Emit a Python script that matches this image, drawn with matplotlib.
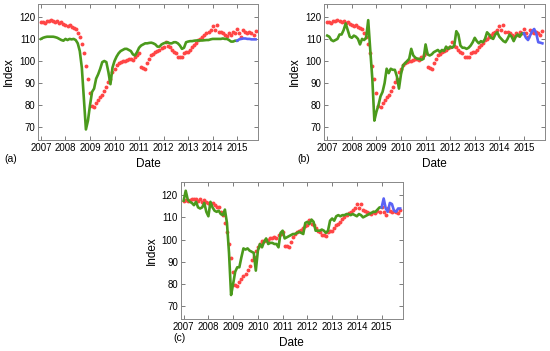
import numpy as np
import matplotlib
matplotlib.use('Agg')
import matplotlib.pyplot as plt

plt.rcParams['font.family'] = ['Liberation Sans', 'DejaVu Sans']

# monthly index, Jan 2007 .. Oct 2015
observed = [
    117.5, 117.8, 117.2, 118.0, 118.3, 118.5, 118.2, 117.5, 118.3, 117.0, 117.8, 116.8,
    116.5, 116.0, 116.3, 115.5, 114.8, 114.5, 112.5, 111.0, 107.5, 103.5, 97.8, 91.8,
    85.3, 79.6, 79.0, 80.8, 82.3, 83.5, 84.5, 86.5, 88.3, 90.6, 92.0, 95.0,
    96.6, 98.0, 99.2, 99.5, 99.8, 100.0, 100.5, 100.8, 101.0, 100.5, 102.0, 102.5,
    103.5, 97.2, 97.0, 96.5, 99.0, 101.0, 102.5, 103.3, 104.0, 104.5, 105.0, 106.0,
    106.4, 108.7, 107.0, 106.4, 105.0, 104.0, 103.4, 102.0, 102.0, 101.6, 103.4, 104.0,
    104.0, 105.0, 106.4, 107.2, 108.0, 109.4, 110.0, 111.0, 112.0, 112.5, 113.2, 114.0,
    115.8, 114.0, 116.2, 113.2, 113.0, 112.5, 112.0, 111.5, 112.5, 112.0, 113.0, 112.5,
    114.7, 112.5, 111.0, 114.0, 113.0, 112.5, 113.0, 112.5, 112.0, 113.5,
]

# fitted values, Jan 2007 .. Jan 2015
fit_a = [
    110.0, 110.5, 110.8, 111.0, 111.0, 111.0, 111.0, 110.8, 110.5, 110.0, 109.5, 109.2,
    110.0, 109.5, 110.0, 109.8, 110.0, 109.5, 108.0, 104.5, 97.0, 83.0, 69.0, 73.0,
    80.0, 86.0, 87.5, 92.0, 94.0, 96.5, 99.5, 100.0, 99.5, 95.0, 89.5, 97.0,
    100.0, 102.0, 103.5, 104.5, 105.0, 105.5, 105.5, 105.0, 104.5, 103.0, 102.5, 104.0,
    106.0, 107.0, 107.5, 108.0, 108.0, 108.2, 108.3, 108.0, 107.5, 106.5, 106.5, 107.5,
    108.0, 108.3, 108.5, 108.0, 108.0, 108.5, 108.5, 108.0, 107.0, 105.5, 106.0, 108.5,
    108.8, 109.0, 109.0, 109.2, 109.3, 109.3, 109.3, 109.3, 109.4, 109.5, 109.5, 109.8,
    110.0, 110.0, 110.0, 110.0, 110.0, 110.2, 110.0, 110.0, 109.5, 108.8, 108.8, 109.2,
    109.2,
]
fit_b = [
    111.5, 111.0, 109.5, 109.0, 109.5, 110.0, 112.0, 112.0, 114.0, 117.0, 114.0, 111.0,
    110.5, 111.5, 111.0, 110.0, 107.5, 110.0, 109.5, 110.5, 118.5, 105.0, 92.0, 73.0,
    77.0, 80.0, 84.0, 86.0, 90.0, 96.5, 94.5, 96.5, 96.0, 96.0, 93.0, 87.5,
    94.0, 98.0, 99.0, 100.0, 101.0, 105.5, 102.5, 101.5, 101.0, 101.0, 100.5, 101.0,
    107.5, 103.0, 102.5, 103.0, 104.0, 104.5, 105.0, 104.0, 105.0, 104.5, 106.5, 105.5,
    106.5, 106.0, 107.0, 113.5, 112.0, 107.0, 106.0, 106.0, 105.5, 106.0, 107.0, 108.5,
    110.5, 109.0, 108.0, 109.0, 108.5, 110.0, 113.0, 112.0, 110.5, 110.0, 112.0, 113.0,
    111.0, 110.0, 109.0, 108.5, 110.0, 112.0, 111.0, 109.0, 111.0, 112.0, 111.0, 112.5,
    112.5,
]
fit_c = [
    117.5, 122.0, 118.0, 117.0, 116.5, 115.5, 117.0, 114.5, 114.0, 114.5, 116.5, 112.5,
    110.5, 117.0, 114.5, 113.0, 112.5, 113.0, 111.5, 111.0, 113.5, 107.5, 94.0, 75.0,
    80.0, 85.5, 87.5, 87.5, 92.0, 96.0, 95.5, 96.0, 95.0, 94.5, 94.0, 86.0,
    95.0, 98.0, 96.5, 99.0, 100.5, 98.0, 98.5, 98.5, 98.0, 98.0, 96.5, 103.0,
    104.0, 100.5, 101.0, 101.5, 102.0, 102.5, 102.5, 103.0, 103.5, 103.0, 102.5, 107.5,
    108.0, 107.0, 109.0, 108.0, 104.0, 104.0, 104.0, 104.5, 104.0, 103.0, 104.0, 108.5,
    109.5, 108.5, 110.5, 111.0, 110.5, 111.0, 111.0, 111.5, 111.5, 111.0, 111.5, 111.0,
    110.5, 111.5, 111.0, 110.0, 110.5, 111.0, 111.5, 112.0, 112.5, 112.5, 113.5, 114.5,
    114.5,
]

# forecasts, Jan 2015 .. Oct 2015
fc_a = [109.2, 109.8, 110.0, 110.2, 110.2, 110.0, 110.0, 109.8, 109.8, 109.8]
fc_b = [112.5, 110.5, 109.5, 111.5, 113.5, 114.5, 112.5, 108.5, 108.3, 108.0]
fc_c = [114.5, 118.5, 114.0, 112.5, 116.5, 116.0, 113.0, 112.5, 114.0, 114.0]

panels = [
    ('(a)', fit_a, fc_a),
    ('(b)', fit_b, fc_b),
    ('(c)', fit_c, fc_c),
]

t_obs = 2007 + np.arange(len(observed)) / 12.0
t_fit = 2007 + np.arange(len(fit_a)) / 12.0
t_fc = 2015 + np.arange(len(fc_a)) / 12.0

fig = plt.figure(figsize=(5.5, 3.51), dpi=100)
rects = [
    [0.0691, 0.601, 0.400, 0.3875],
    [0.5896, 0.601, 0.401, 0.3875],
    [0.3285, 0.0912, 0.4036, 0.3894],
]
letter_pos = [(0.008, 0.547), (0.541, 0.547), (0.316, 0.036)]

for (letter, fit, fc), rect, lp in zip(panels, rects, letter_pos):
    ax = fig.add_axes(rect)
    ax.plot(t_obs, observed, 'o', color='#ff4545', ms=2.8, mew=0, zorder=2)
    ax.plot(t_fit, fit, color='#4b9a1c', lw=1.9, zorder=3)
    ax.plot(t_fc, fc, color='#5a62f5', lw=1.9, zorder=3)
    ax.set_xlim(2006.88, 2015.85)
    ax.set_ylim(64.2, 125.8)
    ax.set_xticks(range(2007, 2016))
    ax.set_yticks(range(70, 121, 10))
    ax.tick_params(direction='in', length=3, width=0.6, color='#666666',
                   top=True, right=True, labelsize=6.9, pad=2)
    for s in ax.spines.values():
        s.set_color('#888888')
        s.set_linewidth(0.7)
    ax.set_xlabel('Date', fontsize=8.5, labelpad=4)
    ax.set_ylabel('Index', fontsize=8.5, labelpad=3)
    fig.text(lp[0], lp[1], letter, fontsize=7.5, ha='left', va='center')

plt.savefig('out.png', dpi=100)
